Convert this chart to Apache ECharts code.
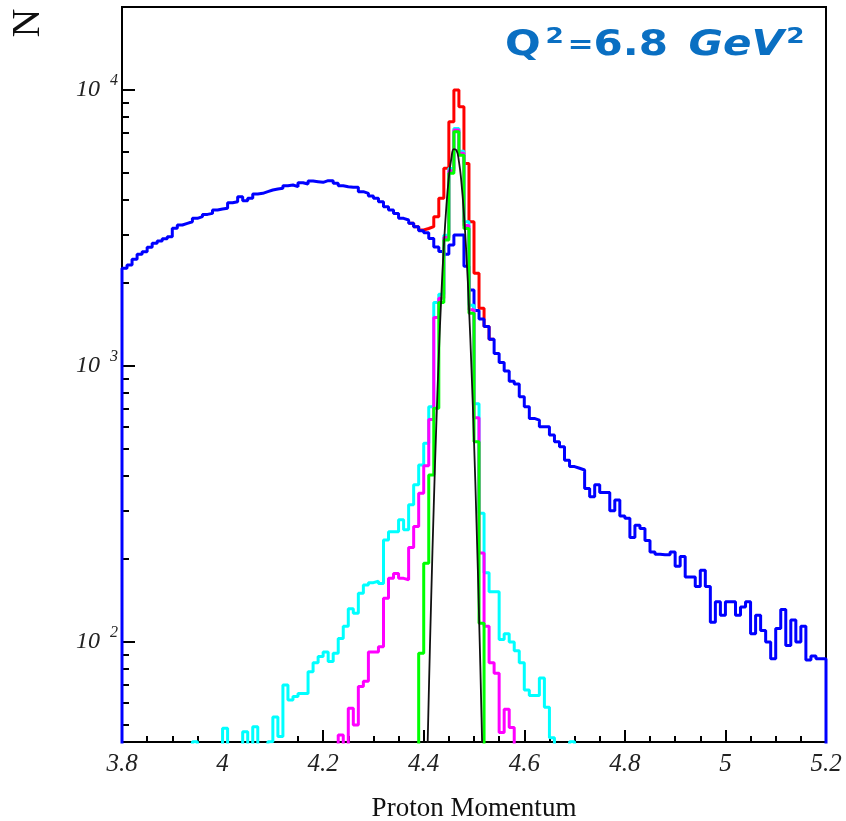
<!DOCTYPE html>
<html>
<head>
<meta charset="utf-8">
<script src="https://cdn.jsdelivr.net/npm/echarts@6/dist/echarts.min.js"></script>
<style>
html,body{margin:0;padding:0;background:#fff;}
#chart{width:846px;height:821px;}
</style>
</head>
<body>
<div id="chart"></div>
<script>
// ---- binning ----
const xStart = 3.8;
const binWidth = 0.01;

// ---- axis ticks ----
const yMin = 43.4;
const yMax = 20000;
const yMajorTicks = [100, 1000, 10000];
const yMinorTicks = [50, 60, 70, 80, 90, 200, 300, 400, 500, 600, 700, 800, 900,
  2000, 3000, 4000, 5000, 6000, 7000, 8000, 9000];

// ---- blue histogram (bins 0..139) ----
const blueValues = [
  2259, 2323, 2435, 2539, 2596, 2692, 2783, 2838, 2893, 2942,
  3155, 3244, 3289, 3334, 3429, 3477, 3544, 3574, 3675, 3706,
  3727, 3907, 3939, 4108, 3973, 4051, 4201, 4224, 4283, 4343,
  4379, 4404, 4503, 4528, 4465, 4617, 4565, 4682, 4656, 4630,
  4695, 4695, 4591, 4503, 4465, 4441, 4441, 4283, 4224, 4131,
  4051, 3939, 3779, 3675, 3574, 3429, 3381, 3289, 3199, 3094,
  3042, 2900, 2700, 2600, 2540, 2745, 2984, 2984, 2300, 1886,
  1590, 1480, 1390, 1250, 1110, 1030, 960, 880, 860, 774,
  712, 646, 637, 603, 603, 562, 532, 510, 456, 432,
  426, 420, 360, 336, 371, 348, 348, 299, 327, 286,
  281, 239, 265, 258, 233, 212, 208, 207, 207, 212,
  188, 204, 172, 172, 159, 182, 159, 118, 140, 125,
  140, 140, 125, 134, 140, 107, 125, 110, 100, 87,
  112, 131, 97, 120, 100, 114, 86, 89, 87, 87
];

// ---- red histogram (bins 57..73) ----
const redStartBin = 57;
const redValues = [3289, 3199, 3110, 3150, 3199, 3477, 4051, 5203, 7680, 10000,
  8701, 5424, 3334, 2167, 1619, 1390, 1250];

// ---- cyan histogram (bins 14..89) ----
const cyanStartBin = 14;
const cyanValues = [
  43.5, 0, 0, 0, 0, 0, 48.7, 0, 0, 0,
  47.3, 0, 49.3, 0, 0, 43.5, 53.5, 45.4, 69.8, 61.6,
  63.4, 65, 65, 78, 84, 88.5, 92, 85, 91, 103,
  114, 132, 127, 150, 161, 164, 166, 163, 234, 251,
  251, 277, 255, 314, 371, 438, 525, 712, 1700, 1820,
  2980, 5200, 7260, 6000, 3330, 1660, 730, 293, 178, 152,
  152, 102, 107, 100, 93, 84, 67, 64, 64, 74,
  58, 45, 0, 0, 0, 43.5
];

// ---- magenta histogram (bins 43..77) ----
const magentaStartBin = 43;
const magentaValues = [
  46, 0, 57.5, 50, 69, 72, 92, 92, 96, 144,
  170, 177, 170, 168, 220, 262, 346, 435, 640, 1500,
  1760, 2920, 5100, 7160, 5900, 3230, 1600, 650, 210, 114,
  84, 77, 47, 57, 49
];

// ---- green histogram (bins 59..71) ----
const greenStartBin = 59;
const greenValues = [91, 193, 403, 703, 1700, 2860, 5000, 7060, 5800, 3150, 1552, 532, 117];

// ---- black fitted curve (x, N) ----
const fitX = [4.405, 4.41, 4.415, 4.42, 4.425, 4.43, 4.435, 4.44, 4.445, 4.45, 4.455, 4.46,
  4.465, 4.47, 4.475, 4.48, 4.485, 4.49, 4.495, 4.5, 4.505, 4.51, 4.515, 4.52];
const fitY = [25.4, 63.7, 147, 312, 608, 1089, 1794, 2714, 3774, 4822, 5661, 6109,
  6058, 5520, 4622, 3557, 2515, 1635, 976, 536, 270, 125, 53.3, 20.9];

// ---- build step data ----
const FLOOR = 1; // empty bins sit below the log axis minimum
function edge(i) { return +(xStart + binWidth * i).toFixed(4); }
function hist(values, startBin, dropEnds) {
  const f = v => (v > 0 ? v : FLOOR);
  const pts = [];
  if (dropEnds) pts.push([edge(startBin), FLOOR]);
  values.forEach((v, k) => pts.push([edge(startBin + k), f(v)]));
  pts.push([edge(startBin + values.length), f(values[values.length - 1])]);
  if (dropEnds) pts.push([edge(startBin + values.length), FLOOR]);
  return pts;
}
function histSeries(name, data, color, width) {
  return {
    name: name, type: 'line', step: 'end', data: data,
    symbol: 'none', showSymbol: false, clip: true, silent: true,
    lineStyle: { color: color, width: width }, itemStyle: { color: color },
    animation: false
  };
}

const serifFont = 'Liberation Serif';
const titleColor = '#0a6fc2';
const tBase = { fontFamily: 'DejaVu Sans', fontWeight: 'bold', fontSize: 35, fill: titleColor, lineHeight: 40 };
const tSup = { fontFamily: 'DejaVu Sans', fontWeight: 'bold', fontSize: 22, fill: titleColor, lineHeight: 26, verticalAlign: 'top' };

const chart = echarts.init(document.getElementById('chart'), null, { renderer: 'canvas' });
chart.setOption({
  backgroundColor: '#ffffff',
  animation: false,
  graphic: [{
    type: 'text', x: 28, y: 23, rotation: Math.PI / 2,
    style: { text: 'N', font: '40px "Liberation Serif"', fill: '#111', align: 'center', verticalAlign: 'middle' }
  }, {
    type: 'text', x: 505, y: 26, scaleX: 1.2, scaleY: 1,
    style: {
      text: '{q|Q}{s1|2}{eq|=}{d|6.8}{g|GeV}{s2|2}',
      align: 'left', verticalAlign: 'top',
      rich: {
        q: Object.assign({}, tBase),
        s1: Object.assign({}, tSup, { padding: [0, 0, 0, 4] }),
        eq: Object.assign({}, tBase, { fontSize: 26, padding: [0, 0, 0, 3] }),
        d: Object.assign({}, tBase),
        g: Object.assign({}, tBase, { fontStyle: 'italic', padding: [0, 0, 0, 17] }),
        s2: Object.assign({}, tSup, { padding: [0, 0, 0, 2] })
      }
    }
  }],
  grid: {
    left: 122, right: 20, top: 7, bottom: 79,
    outerBoundsMode: 'none', containLabel: false,
    show: true, borderColor: '#000', borderWidth: 2, backgroundColor: 'transparent'
  },
  xAxis: {
    type: 'value', min: 3.8, max: 5.2, interval: 0.2,
    axisLine: { show: true, onZero: false, lineStyle: { color: '#000', width: 2 } },
    axisTick: { show: true, inside: true, length: 12, lineStyle: { color: '#000', width: 2 } },
    minorTick: { show: true, splitNumber: 4, length: 6, lineStyle: { color: '#000', width: 2 } },
    axisLabel: { margin: 10, fontFamily: serifFont, fontStyle: 'italic', fontSize: 25, color: '#222' },
    splitLine: { show: false },
    name: 'Proton Momentum', nameLocation: 'middle', nameGap: 53,
    nameTextStyle: { fontFamily: serifFont, fontSize: 27, color: '#111' }
  },
  yAxis: [{
    type: 'log', logBase: 10, min: yMin, max: yMax, position: 'left',
    axisLine: { show: true, lineStyle: { color: '#000', width: 2 } },
    axisTick: { show: true, inside: true, length: 13, customValues: yMajorTicks, lineStyle: { color: '#000', width: 2 } },
    axisLabel: {
      customValues: yMajorTicks, margin: 4,
      formatter: v => '{b|10}{e|' + Math.round(Math.log10(v)) + '}',
      rich: {
        b: { fontFamily: serifFont, fontStyle: 'italic', fontSize: 24, color: '#222', lineHeight: 34 },
        e: { fontFamily: serifFont, fontStyle: 'italic', fontSize: 16, color: '#222', verticalAlign: 'top', lineHeight: 16, padding: [0, 0, 0, 10] }
      }
    },
    splitLine: { show: false }, minorTick: { show: false }
  }, {
    type: 'log', logBase: 10, min: yMin, max: yMax, position: 'left',
    axisLine: { show: false },
    axisTick: { show: true, inside: true, length: 7, customValues: yMinorTicks, lineStyle: { color: '#000', width: 2 } },
    axisLabel: { show: false },
    splitLine: { show: false }, minorTick: { show: false }
  }],
  series: [
    histSeries('red', hist(redValues, redStartBin, false), '#ff0000', 3),
    histSeries('blue', hist(blueValues, 0, true), '#0000ff', 3),
    histSeries('cyan', hist(cyanValues, cyanStartBin, true), '#00ffff', 3),
    histSeries('magenta', hist(magentaValues, magentaStartBin, true), '#ff00ff', 3),
    histSeries('green', hist(greenValues, greenStartBin, true), '#00ff00', 3),
    {
      name: 'fit', type: 'line', data: fitX.map((x, i) => [x, fitY[i]]),
      symbol: 'none', showSymbol: false, smooth: true, clip: true, silent: true,
      lineStyle: { color: '#111', width: 1.8 }, animation: false
    }
  ]
});
</script>
</body>
</html>
